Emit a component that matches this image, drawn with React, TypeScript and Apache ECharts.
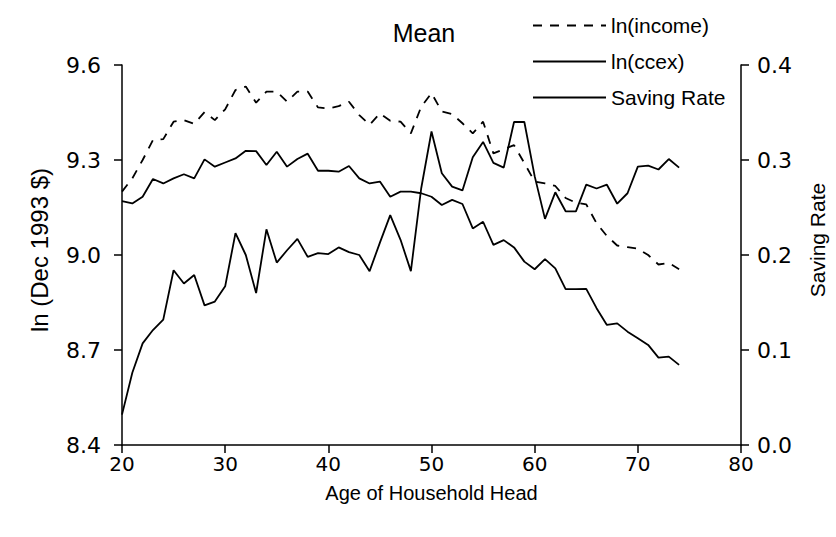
import React, { useEffect, useRef } from "react";
import * as echarts from "echarts";

const ages = [20,21,22,23,24,25,26,27,28,29,30,31,32,33,34,35,36,37,38,39,40,41,42,43,44,45,46,47,48,49,50,51,52,53,54,55,56,57,58,59,60,61,62,63,64,65,66,67,68,69,70,71,72,73,74];

const lnIncome = [9.200,9.242,9.300,9.363,9.366,9.421,9.426,9.414,9.451,9.426,9.460,9.521,9.532,9.481,9.516,9.516,9.484,9.516,9.516,9.466,9.463,9.470,9.484,9.442,9.411,9.447,9.424,9.421,9.384,9.468,9.511,9.453,9.445,9.416,9.384,9.421,9.321,9.334,9.347,9.290,9.232,9.226,9.218,9.180,9.165,9.160,9.100,9.060,9.030,9.025,9.020,9.000,8.970,8.975,8.955];

const lnCcex = [9.170,9.163,9.184,9.240,9.226,9.242,9.255,9.242,9.302,9.279,9.292,9.305,9.329,9.328,9.284,9.326,9.279,9.303,9.320,9.266,9.266,9.263,9.281,9.242,9.226,9.232,9.184,9.200,9.200,9.195,9.184,9.158,9.174,9.161,9.084,9.105,9.032,9.047,9.024,8.979,8.955,8.987,8.958,8.892,8.892,8.893,8.832,8.779,8.784,8.758,8.737,8.716,8.676,8.679,8.653];

const savingRate = [0.032,0.076,0.107,0.121,0.132,0.184,0.170,0.179,0.147,0.151,0.167,0.223,0.200,0.160,0.227,0.192,0.205,0.217,0.198,0.202,0.201,0.208,0.203,0.200,0.183,0.213,0.242,0.216,0.183,0.270,0.330,0.286,0.272,0.268,0.303,0.319,0.297,0.292,0.340,0.340,0.283,0.238,0.266,0.246,0.246,0.274,0.270,0.274,0.254,0.265,0.293,0.294,0.290,0.301,0.292];

const seriesNames = ["ln(income)", "ln(ccex)", "Saving Rate"];
const titleText = "Mean";
const xAxisName = "Age of Household Head";
const leftAxisName = "ln (Dec 1993 $)";
const rightAxisName = "Saving Rate";

const FONT = "'Liberation Sans', Arial, sans-serif";
const TICKFONT = "'DejaVu Sans', Verdana, sans-serif";

export default function App() {
  const ref = useRef<HTMLDivElement>(null);
  useEffect(() => {
    if (!ref.current) return;
    const chart = echarts.init(ref.current, undefined, { renderer: "svg" });
    const pair = (arr: number[]) => ages.map((a, i) => [a, arr[i]]);
    const axisCommon = {
      axisLine: { show: true, lineStyle: { color: "#000", width: 1.5 } },
      axisTick: { show: true, length: 8, lineStyle: { color: "#000", width: 1.5 } },
      splitLine: { show: false },
    };
    chart.setOption({
      animation: false,
      backgroundColor: "#fff",
      textStyle: { fontFamily: FONT },
      title: {
        text: titleText,
        left: 419,
        textAlign: "center",
        top: 15,
        textStyle: { fontSize: 25, fontWeight: "normal", color: "#000", fontFamily: FONT },
      },
      legend: {
        orient: "vertical",
        left: 527,
        top: 10,
        itemWidth: 73,
        itemHeight: 20,
        itemGap: 15,
        data: seriesNames,
        itemStyle: { opacity: 0 },
        textStyle: { fontSize: 21, color: "#000", fontFamily: FONT },
      },
      grid: { left: 122, right: 95, top: 65, bottom: 92 },
      xAxis: {
        type: "value",
        min: 20,
        max: 80,
        interval: 10,
        name: xAxisName,
        nameLocation: "middle",
        nameGap: 38,
        ...axisCommon,
        nameTextStyle: { color: "#000", fontSize: 20, fontFamily: FONT },
        axisLabel: { color: "#000", fontSize: 20, margin: 9, fontFamily: TICKFONT },
      },
      yAxis: [
        {
          type: "value",
          min: 8.4,
          max: 9.6,
          interval: 0.3,
          name: leftAxisName,
          nameLocation: "middle",
          nameRotate: 90,
          nameGap: 71,
          ...axisCommon,
          nameTextStyle: { color: "#000", fontSize: 24, fontFamily: FONT, padding: [0, 0, 0, 10] },
          axisLabel: { color: "#000", fontSize: 22, margin: 21, fontFamily: TICKFONT, formatter: (v: number) => v.toFixed(1) },
        },
        {
          type: "value",
          min: 0,
          max: 0.4,
          interval: 0.1,
          position: "right",
          name: rightAxisName,
          nameLocation: "middle",
          nameRotate: 90,
          nameGap: 66,
          ...axisCommon,
          nameTextStyle: { color: "#000", fontSize: 21, fontFamily: FONT, padding: [0, 0, 0, 30] },
          axisLabel: { color: "#000", fontSize: 22, margin: 16, fontFamily: TICKFONT, formatter: (v: number) => v.toFixed(1) },
        },
      ],
      series: [
        {
          name: seriesNames[0],
          type: "line",
          yAxisIndex: 0,
          data: pair(lnIncome),
          symbol: "none",
          lineStyle: { color: "#000", width: 1.8, type: [9, 8] },
          itemStyle: { color: "#000" },
        },
        {
          name: seriesNames[1],
          type: "line",
          yAxisIndex: 0,
          data: pair(lnCcex),
          symbol: "none",
          lineStyle: { color: "#000", width: 1.8 },
          itemStyle: { color: "#000" },
        },
        {
          name: seriesNames[2],
          type: "line",
          yAxisIndex: 1,
          data: pair(savingRate),
          symbol: "none",
          lineStyle: { color: "#000", width: 1.8 },
          itemStyle: { color: "#000" },
        },
      ],
    });
    return () => chart.dispose();
  }, []);
  return <div ref={ref} style={{ position: "fixed", left: 0, top: 0, width: 836, height: 537 }} />;
}
